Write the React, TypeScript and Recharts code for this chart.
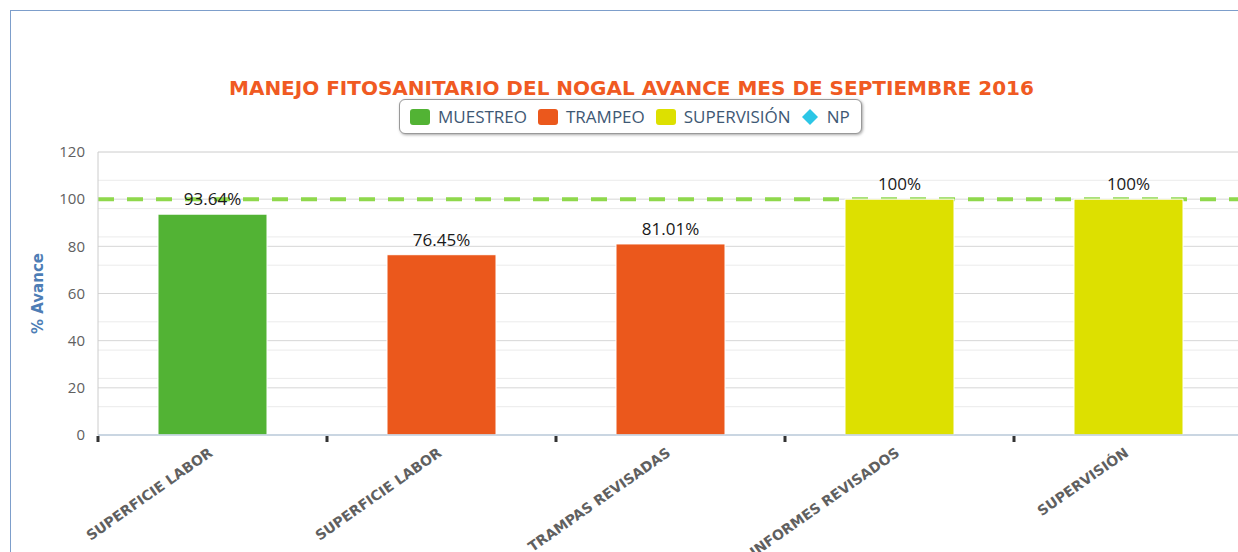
import React from 'react';
import {
  BarChart,
  Bar,
  XAxis,
  YAxis,
  CartesianGrid,
  Cell,
  LabelList,
  Legend,
  ReferenceLine,
} from 'recharts';

const categories = ['SUPERFICIE LABOR', 'SUPERFICIE LABOR', 'TRAMPAS REVISADAS', 'INFORMES REVISADOS', 'SUPERVISIÓN'];
const avance = [93.64, 76.45, 81.01, 100, 100];
const valueLabels = ['93.64%', '76.45%', '81.01%', '100%', '100%'];
const barSeries = ['MUESTREO', 'TRAMPEO', 'TRAMPEO', 'SUPERVISIÓN', 'SUPERVISIÓN'];

const legendNames = ['MUESTREO', 'TRAMPEO', 'SUPERVISIÓN', 'NP'];
const legendColors = ['#52b334', '#eb581c', '#dde000', '#2cc6e6'];

const yTicks = [0, 20, 40, 60, 80, 100, 120];
const yMinorTicks = [0, 4, 8, 12, 16, 20, 24, 28, 32, 36, 40, 44, 48, 52, 56, 60, 64, 68, 72, 76, 80, 84, 88, 92, 96, 100, 104, 108, 112, 116, 120];
const meta = 100;

const TITLE = 'MANEJO FITOSANITARIO DEL NOGAL AVANCE MES DE SEPTIEMBRE 2016';

const data = categories.map((name, i) => ({
  name,
  value: avance[i],
  label: valueLabels[i],
  series: barSeries[i],
}));

const colorOf = (series: string) => legendColors[legendNames.indexOf(series)];

// label rotated like the original, plus the dark tick mark on the left edge of each category
const CategoryTick = (props: any) => {
  const { x, y, payload, width, visibleTicksCount } = props;
  const half = payload.offset != null && payload.offset > 0
    ? payload.offset
    : width / (visibleTicksCount || categories.length) / 2;
  const edge = x - half;
  const axisY = y - 8;
  const ax = x + 1;
  const ay = y + 12;
  return (
    <g>
      <rect x={edge - 1.5} y={axisY + 1} width={3} height={6} fill="#333" />
      <text
        x={ax}
        y={ay}
        textAnchor="end"
        transform={`rotate(-35, ${ax}, ${ay})`}
        fill="#606060"
        fontFamily="DejaVu Sans"
        fontWeight="bold"
        fontSize={14}
      >
        {payload.value}
      </text>
    </g>
  );
};

const LegendBox = () => (
  <div
    style={{
      width: 463,
      height: 35,
      boxSizing: 'border-box',
      border: '1px solid #999',
      borderRadius: 6,
      boxShadow: '1px 1px 3px rgba(0,0,0,0.35)',
      background: '#fff',
      display: 'flex',
      alignItems: 'center',
      paddingLeft: 10,
      fontFamily: 'Open Sans',
      fontSize: 17,
      color: '#3e5874',
    }}
  >
    {legendNames.map((name, i) => (
      <div key={name} style={{ display: 'flex', alignItems: 'center', marginRight: 11 }}>
        {name === 'NP' ? (
          <svg width={20} height={16} style={{ marginRight: 5 }}>
            <polygon points="8,0 16,8 8,16 0,8" fill={legendColors[i]} />
          </svg>
        ) : (
          <span
            style={{
              display: 'inline-block',
              width: 20,
              height: 16,
              borderRadius: 3,
              background: legendColors[i],
              marginRight: 8,
            }}
          />
        )}
        <span>{name}</span>
      </div>
    ))}
  </div>
);

const YLabel = (props: any) => {
  const vb = props.viewBox;
  const cx = vb.x + 38;
  const cy = vb.y + vb.height / 2;
  return (
    <text
      x={cx}
      y={cy}
      transform={`rotate(-90, ${cx}, ${cy})`}
      textAnchor="middle"
      dominantBaseline="central"
      fill="#4d7db5"
      fontFamily="DejaVu Sans"
      fontWeight="bold"
      fontSize={15}
    >
      % Avance
    </text>
  );
};

export default function App() {
  return (
    <div
      style={{
        position: 'fixed',
        left: 0,
        top: 0,
        width: 1238,
        height: 552,
        overflow: 'hidden',
        background: '#fff',
      }}
    >
      <div
        style={{
          position: 'absolute',
          left: 10,
          top: 10,
          width: 1400,
          height: 700,
          borderLeft: '1px solid #7d9ecb',
          borderTop: '1px solid #7d9ecb',
        }}
      />
      <div
        style={{
          position: 'absolute',
          left: 229,
          width: 800,
          top: 78,
          textAlign: 'center',
          fontFamily: 'DejaVu Sans',
          fontWeight: 'bold',
          fontSize: 20,
          lineHeight: '20px',
          color: '#f05a22',
          whiteSpace: 'nowrap',
        }}
      >
        {TITLE}
      </div>
      <div style={{ position: 'absolute', left: 0, top: 0 }}>
        <BarChart
          width={1260}
          height={552}
          data={data}
          margin={{ top: 152, right: 17, bottom: 116, left: 0 }}
        >
          <CartesianGrid
            yAxisId="minor"
            vertical={false}
            horizontalValues={yMinorTicks}
            stroke="#ebebeb"
          />
          <CartesianGrid vertical={false} stroke="#d6d6d6" />
          <XAxis
            dataKey="name"
            height={1}
            interval={0}
            tickLine={false}
            axisLine={{ stroke: '#c0d0e0', strokeWidth: 1.5 }}
            tick={<CategoryTick />}
          />
          <YAxis
            domain={[0, 120]}
            ticks={yTicks}
            width={98}
            tickSize={0}
            tickMargin={13}
            tickLine={false}
            axisLine={{ stroke: '#cccccc' }}
            tick={{ fill: '#606060', fontFamily: 'Open Sans', fontSize: 15 }}
            label={{ content: (p: any) => <YLabel {...p} /> }}
          />
          <YAxis
            yAxisId="minor"
            domain={[0, 120]}
            ticks={yMinorTicks}
            allowDataOverflow
            width={0}
            tick={() => <g />}
            tickLine={false}
            axisLine={false}
          />
          <Legend
            verticalAlign="middle"
            layout="horizontal"
            wrapperStyle={{ top: 99, left: 399, width: 463, height: 35 }}
            content={() => <LegendBox />}
          />
          <ReferenceLine
            y={meta}
            stroke="#8fd84c"
            strokeWidth={4}
            strokeDasharray="16 13"
            zIndex={50}
          />
          <Bar dataKey="value" barSize={109} stroke="#ffffff" strokeWidth={1} isAnimationActive={false}>
            {data.map((d, i) => (
              <Cell key={`cell-${i}`} fill={colorOf(d.series)} />
            ))}
            <LabelList
              dataKey="label"
              position="top"
              offset={9}
              fill="#1a1a1a"
              fontFamily="Open Sans"
              fontSize={17}
            />
          </Bar>
        </BarChart>
      </div>
    </div>
  );
}
